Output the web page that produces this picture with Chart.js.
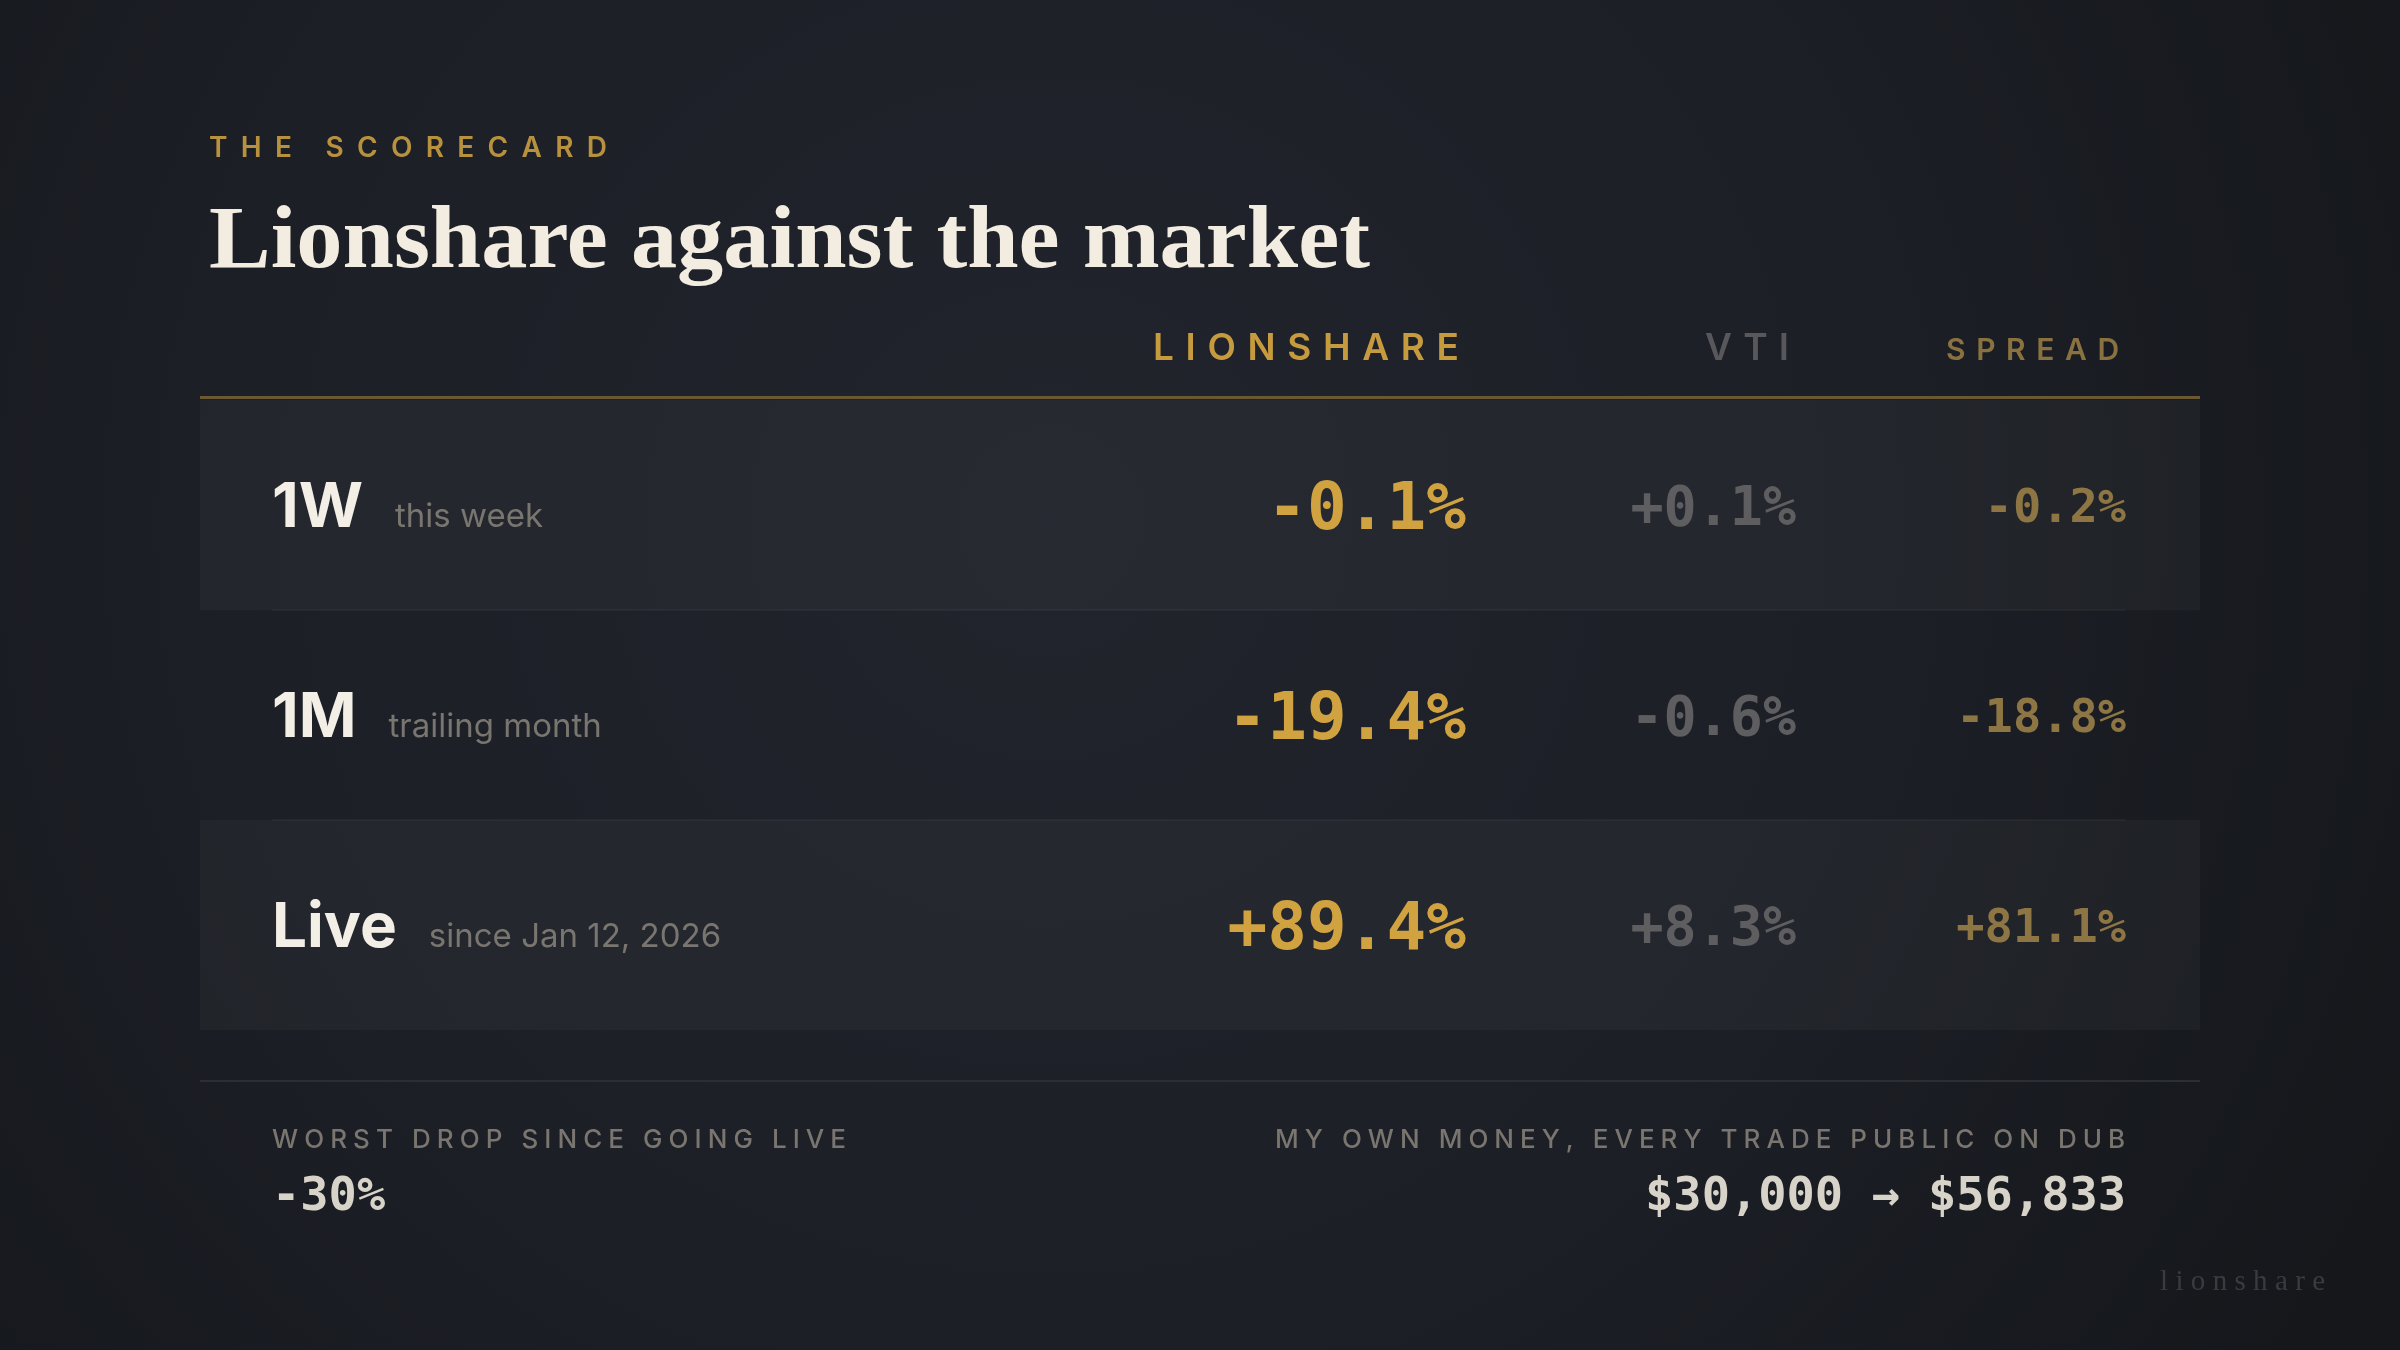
<!DOCTYPE html>
<html>
<head>
<meta charset="utf-8">
<script src="https://cdn.jsdelivr.net/npm/chart.js@4.4.1/dist/chart.umd.min.js"></script>
<style>
  html, body { margin: 0; padding: 0; background: #17191e; }
  canvas { display: block; }
</style>
</head>
<body>
<canvas id="scorecard" width="2400" height="1350"></canvas>
<script>
// Dados do placar
const periods = ['1W', '1M', 'Live'];
const periodNotes = ['this week', 'trailing month', 'since Jan 12, 2026'];
const columns = ['LIONSHARE', 'VTI', 'SPREAD'];
const lionshare = [-0.1, -19.4, 89.4];
const vti = [0.1, -0.6, 8.3];
const spread = [-0.2, -18.8, 81.1];
const worstDrop = -30;
const startMoney = 30000;
const endMoney = 56833;

const kicker = 'THE SCORECARD';
const title = 'Lionshare against the market';
const footLeft = 'WORST DROP SINCE GOING LIVE';
const footRight = 'MY OWN MONEY, EVERY TRADE PUBLIC ON DUB';
const brand = 'lionshare';

// Estilos
const MONO = '"DejaVu Sans Mono", monospace';
const SANS = 'Inter, "Noto Sans", sans-serif';
const SERIF = '"Liberation Serif", "DejaVu Serif", serif';
const valueStyles = [
    { size: 66, color: '#d0a240' },
    { size: 55, color: '#5e5e61' },
    { size: 47, color: '#8d7544' }
];
const headerStyles = [
    { size: 37, color: '#c69b3e', width: 306 },
    { size: 37, color: '#58585c', width: 84 },
    { size: 30, color: '#8a7240', width: 173 }
];

function pct(v) {
    return (v > 0 ? '+' : '') + v.toFixed(1) + '%';
}

function money(v) {
    return '$' + v.toLocaleString('en-US');
}

// Texto com espaçamento entre letras, ajustado a uma largura
function drawSpaced(ctx, text, x, y, width, align) {
    const chars = [...text];
    const widths = chars.map(c => ctx.measureText(c).width);
    const natural = widths.reduce((s, w) => s + w, 0);
    const gap = chars.length > 1 ? (width - natural) / (chars.length - 1) : 0;
    let cx = align === 'right' ? x - width : x;
    ctx.textAlign = 'left';
    chars.forEach((c, i) => {
        ctx.fillText(c, cx, y);
        cx += widths[i] + gap;
    });
}

const backgroundPlugin = {
    id: 'background',
    beforeDraw(chart) {
        const { ctx, width, height } = chart;
        ctx.save();
        ctx.fillStyle = '#15171b';
        ctx.fillRect(0, 0, width, height);
        const g = ctx.createRadialGradient(1050, 520, 0, 1050, 520, 1500);
        g.addColorStop(0, 'rgba(33,36,44,1)');
        g.addColorStop(0.55, 'rgba(28,31,38,1)');
        g.addColorStop(1, 'rgba(21,23,27,1)');
        ctx.fillStyle = g;
        ctx.fillRect(0, 0, width, height);
        ctx.restore();
    }
};

const tablePlugin = {
    id: 'scorecardTable',
    afterDatasetsDraw(chart) {
        const { ctx, chartArea: a, scales } = chart;
        const y = scales.y;
        const col = scales.col;
        const labelX = a.left + 72;
        const lastRight = col.getPixelForValue(columns.length);
        ctx.save();
        ctx.textBaseline = 'alphabetic';

        // Kicker e título
        ctx.fillStyle = '#b8913f';
        ctx.font = `600 28px ${SANS}`;
        drawSpaced(ctx, kicker, 209, 157, 398, 'left');

        ctx.fillStyle = '#f3ece0';
        ctx.font = `bold 88px ${SERIF}`;
        const tw = ctx.measureText(title).width;
        ctx.save();
        ctx.translate(209, 267);
        ctx.scale(1161 / tw, 1);
        ctx.textAlign = 'left';
        ctx.fillText(title, 0, 0);
        ctx.restore();

        // Cabeçalhos das colunas
        columns.forEach((name, i) => {
            const s = headerStyles[i];
            ctx.fillStyle = s.color;
            ctx.font = `600 ${s.size}px ${SANS}`;
            drawSpaced(ctx, name, col.getPixelForValue(i + 1) - 7, a.top - 40, s.width, 'right');
        });

        // Linha dourada
        ctx.fillStyle = '#6a5833';
        ctx.fillRect(a.left, a.top - 4, a.right - a.left, 3);

        // Separadores finos entre linhas
        ctx.fillStyle = 'rgba(255,255,255,0.035)';
        for (let i = 1; i < periods.length; i++) {
            const yb = (y.getPixelForValue(i - 1) + y.getPixelForValue(i)) / 2;
            ctx.fillRect(labelX, Math.round(yb) - 1, lastRight - labelX, 2);
        }

        // Linhas da tabela
        const series = [lionshare, vti, spread];
        periods.forEach((p, r) => {
            const cy = y.getPixelForValue(r);
            ctx.textAlign = 'left';
            ctx.fillStyle = '#f4efe6';
            ctx.font = `bold 62px ${SANS}`;
            const base = cy + 22;
            ctx.fillText(p, labelX, base);
            const lw = ctx.measureText(p).width;
            ctx.fillStyle = '#79756f';
            ctx.font = `400 33px ${SANS}`;
            ctx.fillText(periodNotes[r], labelX + lw + 32, base);

            series.forEach((vals, c) => {
                const s = valueStyles[c];
                ctx.font = `bold ${s.size}px ${MONO}`;
                ctx.fillStyle = s.color;
                ctx.textAlign = 'right';
                ctx.fillText(pct(vals[r]), col.getPixelForValue(c + 1), cy + s.size * 0.365);
            });
        });

        // Rodapé
        ctx.fillStyle = '#2c2e34';
        ctx.fillRect(a.left, a.bottom + 50, a.right - a.left, 2);

        ctx.fillStyle = '#7a766f';
        ctx.font = `500 26px ${SANS}`;
        drawSpaced(ctx, footLeft, labelX, a.bottom + 118, 574, 'left');
        drawSpaced(ctx, footRight, lastRight - 1, a.bottom + 118, 850, 'right');

        ctx.fillStyle = '#d8d3c9';
        ctx.font = `bold 47px ${MONO}`;
        ctx.textAlign = 'left';
        ctx.fillText(worstDrop + '%', labelX, a.bottom + 180);
        ctx.textAlign = 'right';
        ctx.fillText(money(startMoney) + ' \u2192 ' + money(endMoney), lastRight, a.bottom + 180);

        // Marca d'água
        ctx.fillStyle = '#3a3b41';
        ctx.font = `400 29px ${SERIF}`;
        drawSpaced(ctx, brand, 2160, 1290, 165, 'left');

        ctx.restore();
    }
};

function montarGrafico() {
    new Chart(document.getElementById('scorecard'), {
        type: 'bar',
        data: {
            labels: periods,
            datasets: [{
                data: periods.map(() => 1),
                backgroundColor: periods.map((p, i) => i % 2 === 0 ? 'rgba(255,255,255,0.032)' : 'rgba(0,0,0,0)'),
                borderWidth: 0,
                barPercentage: 1,
                categoryPercentage: 1
            }]
        },
        options: {
            indexAxis: 'y',
            responsive: false,
            devicePixelRatio: 1,
            animation: false,
            events: [],
            layout: { padding: { left: 200, right: 200, top: 400, bottom: 320 } },
            plugins: {
                legend: { display: false },
                tooltip: { enabled: false },
                title: { display: false }
            },
            scales: {
                x: { display: false, min: 0, max: 1 },
                y: { display: false },
                col: { type: 'linear', axis: 'x', display: false, min: -2.836, max: 3.224 }
            }
        },
        plugins: [backgroundPlugin, tablePlugin]
    });
}

Promise.all([
    document.fonts.load(`600 28px ${SANS}`),
    document.fonts.load(`bold 62px ${SANS}`),
    document.fonts.load(`400 33px ${SANS}`),
    document.fonts.load(`bold 66px ${MONO}`),
    document.fonts.load(`bold 88px ${SERIF}`)
]).catch(() => {}).then(montarGrafico);
</script>
</body>
</html>
